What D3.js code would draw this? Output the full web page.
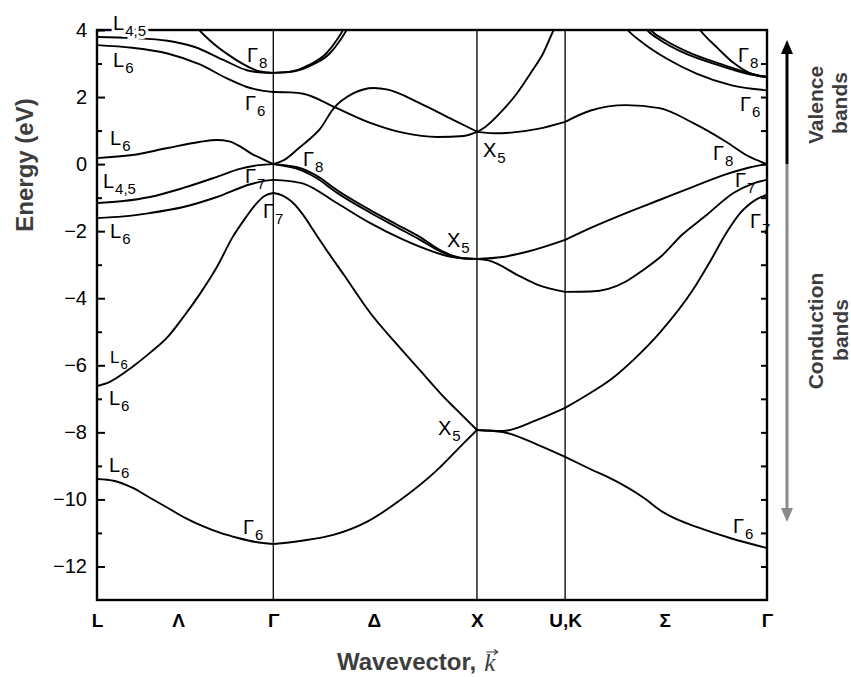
<!DOCTYPE html>
<html>
<head>
<meta charset="utf-8">
<script src="https://cdn.jsdelivr.net/npm/d3@7"></script>
<style>
  body { margin: 0; background: #fff; }
  text { font-family: "Liberation Sans", Arial, sans-serif; }
</style>
</head>
<body>
<svg id="chart" width="851" height="677"></svg>
<script>
// ---- Path through the Brillouin zone (k in arbitrary path-length units) ----
const pathTicks  = [0, 0.46, 1, 1.57, 2.155, 2.655, 3.22, 3.8];
const pathLabels = ["L", "Λ", "Γ", "Δ", "X", "U,K", "Σ", "Γ"];
const symmetryLines = [1, 2.155, 2.655];

// ---- Energy ticks (eV) ----
const energyMajor = [-12, -10, -8, -6, -4, -2, 0, 2, 4];
const energyMinor = [-11, -9, -7, -5, -3, -1, 1, 3];
const energyRight = [-12, -11, -10, -9, -8, -7, -6, -5, -4, -3, -2, -1, 0, 1, 2, 3];

// ---- Bands: [k, E] pairs, one array per branch ----
// L -> Γ
const bandsLG = [
  [[0,-9.39],[0.1,-9.45],[0.2,-9.65],[0.3,-9.95],[0.4,-10.25],[0.5,-10.55],[0.6,-10.8],[0.7,-11.0],[0.8,-11.15],[0.9,-11.27],[1,-11.33]],
  [[0,-6.62],[0.07,-6.5],[0.2,-6.05],[0.3,-5.63],[0.4,-5.16],[0.49,-4.56],[0.58,-3.9],[0.68,-3.07],[0.77,-2.17],[0.84,-1.62],[0.9,-1.2],[0.95,-0.95],[1,-0.86]],
  [[0,-1.61],[0.15,-1.56],[0.3,-1.46],[0.49,-1.28],[0.68,-0.98],[0.87,-0.6],[0.95,-0.5],[1,-0.47]],
  [[0,-1.16],[0.15,-1.1],[0.3,-0.98],[0.49,-0.71],[0.68,-0.38],[0.81,-0.14],[0.92,-0.03],[1,0]],
  [[0,0.18],[0.2,0.27],[0.4,0.48],[0.58,0.66],[0.68,0.72],[0.75,0.68],[0.82,0.5],[0.88,0.3],[0.94,0.15],[1,0]],
  [[0,3.55],[0.2,3.47],[0.4,3.3],[0.58,2.98],[0.74,2.55],[0.85,2.3],[0.93,2.2],[1,2.15]],
  [[0,3.79],[0.2,3.76],[0.4,3.68],[0.55,3.5],[0.72,3.1],[0.85,2.8],[0.94,2.73],[1,2.72]],
  [[0.54,4.25],[0.58,4.0],[0.66,3.6],[0.74,3.28],[0.83,2.98],[0.92,2.77],[1,2.72]]
];
// Γ -> X
const bandsGX = [
  [[1,-11.33],[1.15,-11.24],[1.34,-11.06],[1.53,-10.67],[1.72,-10.02],[1.93,-9.12],[2.08,-8.32],[2.155,-7.93]],
  [[1,-0.86],[1.05,-0.93],[1.1,-1.1],[1.19,-1.67],[1.225,-1.96],[1.3,-2.55],[1.4,-3.3],[1.55,-4.44],[1.7,-5.37],[1.83,-6.14],[1.95,-6.85],[2.04,-7.33],[2.155,-7.93]],
  [[1,0],[1.06,-0.03],[1.14,-0.1],[1.24,-0.33],[1.36,-0.77],[1.55,-1.37],[1.7,-1.8],[1.83,-2.17],[1.96,-2.6],[2.06,-2.79],[2.155,-2.83]],
  [[1,0],[1.06,-0.05],[1.14,-0.15],[1.24,-0.4],[1.36,-0.85],[1.55,-1.45],[1.7,-1.88],[1.83,-2.25],[1.96,-2.64],[2.06,-2.8],[2.155,-2.83]],
  [[1,-0.47],[1.08,-0.5],[1.17,-0.58],[1.36,-1.16],[1.55,-1.76],[1.74,-2.26],[1.89,-2.58],[2.0,-2.76],[2.08,-2.82],[2.155,-2.83]],
  [[1,0],[1.06,0.12],[1.15,0.5],[1.2,0.72],[1.265,1.05],[1.34,1.65],[1.45,2.1],[1.57,2.27],[1.65,2.22],[1.83,1.82],[2.02,1.32],[2.155,0.97]],
  [[1,2.15],[1.1,2.14],[1.17,2.1],[1.36,1.67],[1.55,1.23],[1.74,0.93],[1.93,0.81],[2.08,0.84],[2.155,0.96]],
  [[1,2.72],[1.1,2.76],[1.2,2.95],[1.3,3.3],[1.36,3.7],[1.4,4.05],[1.42,4.3]],
  [[1,2.72],[1.12,2.77],[1.22,2.96],[1.32,3.3],[1.38,3.7],[1.42,4.05],[1.44,4.3]]
];
// X -> U,K
const bandsXU = [
  [[2.155,0.96],[2.25,0.92],[2.35,0.94],[2.5,1.05],[2.655,1.26]],
  [[2.155,0.96],[2.2,1.1],[2.3,1.6],[2.38,2.1],[2.46,2.72],[2.53,3.3],[2.59,4.0],[2.62,4.3]],
  [[2.155,-2.83],[2.3,-2.77],[2.45,-2.6],[2.655,-2.26]],
  [[2.155,-2.83],[2.22,-2.87],[2.4,-3.35],[2.5,-3.6],[2.655,-3.81]],
  [[2.155,-7.93],[2.3,-7.96],[2.5,-7.62],[2.655,-7.27]],
  [[2.155,-7.93],[2.3,-7.99],[2.5,-8.37],[2.655,-8.73]]
];
// U,K -> Γ
const bandsKG = [
  [[2.655,1.26],[2.8,1.6],[3.0,1.76],[3.19,1.67],[3.38,1.23],[3.57,0.66],[3.69,0.25],[3.8,0]],
  [[2.655,-2.26],[2.81,-1.88],[3.0,-1.46],[3.19,-1.07],[3.38,-0.68],[3.57,-0.3],[3.7,-0.1],[3.8,0]],
  [[2.655,-3.81],[2.8,-3.8],[2.9,-3.72],[3.0,-3.5],[3.1,-3.15],[3.2,-2.75],[3.32,-2.1],[3.45,-1.55],[3.61,-0.86],[3.72,-0.58],[3.8,-0.47]],
  [[2.655,-7.27],[2.8,-6.82],[2.91,-6.44],[3.05,-5.8],[3.19,-5.04],[3.38,-3.75],[3.48,-2.88],[3.57,-2.05],[3.65,-1.45],[3.74,-1.05],[3.8,-0.92]],
  [[2.655,-8.73],[2.8,-9.1],[2.93,-9.42],[3.1,-9.95],[3.21,-10.38],[3.3,-10.62],[3.4,-10.82],[3.59,-11.15],[3.8,-11.45]],
  [[2.98,4.2],[3.01,4.0],[3.1,3.6],[3.23,3.15],[3.4,2.7],[3.6,2.35],[3.8,2.2]],
  [[3.09,4.2],[3.12,4.0],[3.2,3.68],[3.32,3.34],[3.52,2.96],[3.7,2.68],[3.8,2.6]],
  [[3.11,4.2],[3.14,4.0],[3.22,3.7],[3.34,3.37],[3.54,2.98],[3.71,2.7],[3.8,2.6]],
  [[3.38,4.3],[3.42,4.0],[3.52,3.46],[3.61,3.02],[3.7,2.72],[3.76,2.62],[3.8,2.6]]
];

// ---- Symmetry labels of the states: [symbol, subscript, k, E] ----
const stateLabels = [
  ["L","4,5",0.091,4.0], ["L","6",0.091,2.9], ["Γ","8",0.851,3.05], ["Γ","6",0.839,1.61],
  ["L","6",0.074,0.57], ["Γ","8",1.168,-0.06], ["L","4,5",0.034,-0.71], ["Γ","7",0.839,-0.56],
  ["Γ","7",0.942,-1.61], ["L","6",0.074,-2.2], ["L","6",0.074,-5.93], ["L","6",0.068,-7.18],
  ["L","6",0.068,-9.18], ["Γ","6",0.828,-11.03],
  ["X","5",2.189,0.21], ["X","5",1.985,-2.47], ["X","5",1.934,-8.08],
  ["Γ","8",3.636,3.05], ["Γ","6",3.647,1.58], ["Γ","8",3.494,0.12], ["Γ","7",3.619,-0.68],
  ["Γ","7",3.704,-1.91], ["Γ","6",3.607,-11.0]
];

// ---- Layout ----
const svg = d3.select("#chart");
const x = d3.scaleLinear().domain([0, 3.8]).range([97, 767]);
const y = d3.scaleLinear().domain([-13, 4]).range([600, 30]);
const [x0, x1] = x.range();
const [yb, yt] = y.range();

svg.append("rect").attr("width", 851).attr("height", 677).attr("fill", "#fff");

svg.append("defs").append("clipPath").attr("id", "plot-clip")
  .append("rect").attr("x", x0).attr("y", yt).attr("width", x1 - x0).attr("height", yb - yt);

// vertical lines at the symmetry points
svg.append("g").selectAll("line").data(symmetryLines).join("line")
  .attr("x1", d => x(d)).attr("x2", d => x(d))
  .attr("y1", yt).attr("y2", yb)
  .attr("stroke", "#111").attr("stroke-width", 1.4);

// bands
const line = d3.line().x(d => x(d[0])).y(d => y(d[1])).curve(d3.curveMonotoneX);
const allBands = [].concat(bandsLG, bandsGX, bandsXU, bandsKG);
svg.append("g").attr("clip-path", "url(#plot-clip)")
  .selectAll("path").data(allBands).join("path")
  .attr("d", line).attr("fill", "none")
  .attr("stroke", "#000").attr("stroke-width", 1.9)
  .attr("stroke-linejoin", "round").attr("stroke-linecap", "round");

// frame
svg.append("rect").attr("x", x0).attr("y", yt).attr("width", x1 - x0).attr("height", yb - yt)
  .attr("fill", "none").attr("stroke", "#000").attr("stroke-width", 2.4);

// left energy axis (ticks point inward)
const axisL = svg.append("g").attr("transform", `translate(${x0},0)`)
  .call(d3.axisLeft(y).tickValues(energyMajor).tickSize(-8).tickPadding(10));
axisL.select(".domain").remove();
axisL.selectAll("line").attr("stroke-width", 2);
axisL.selectAll("text").attr("font-size", 20).attr("fill", "#000")
  .style("font-family", "'Liberation Sans', Arial, sans-serif");

const axisLm = svg.append("g").attr("transform", `translate(${x0},0)`)
  .call(d3.axisLeft(y).tickValues(energyMinor).tickSize(-5).tickFormat(""));
axisLm.select(".domain").remove();
axisLm.selectAll("line").attr("stroke-width", 2);

// right axis minor ticks
const axisR = svg.append("g").attr("transform", `translate(${x1},0)`)
  .call(d3.axisRight(y).tickValues(energyRight).tickSize(-6).tickFormat(""));
axisR.select(".domain").remove();
axisR.selectAll("line").attr("stroke-width", 2);

// path axis
const axisB = svg.append("g").attr("transform", `translate(0,${yb})`)
  .call(d3.axisBottom(x).tickValues(pathTicks).tickSize(0).tickPadding(14)
    .tickFormat((d, i) => pathLabels[i]));
axisB.select(".domain").remove();
axisB.selectAll("text").attr("font-size", 19).attr("font-weight", "bold").attr("fill", "#000")
  .style("font-family", "'Liberation Sans', Arial, sans-serif");

// state labels
const lab = svg.append("g").selectAll("text").data(stateLabels).join("text")
  .attr("x", d => x(d[2])).attr("y", d => y(d[3]))
  .attr("font-size", (d, i) => i === 10 ? 17 : 20)
  .attr("fill", "#000");
lab.each(function(d, i) {
  const t = d3.select(this);
  if (i === 0) t.attr("stroke", "#fff").attr("stroke-width", 6).attr("paint-order", "stroke");
  t.append("tspan").text(d[0]);
  t.append("tspan").attr("dx", 1).attr("dy", 6)
    .attr("font-size", i === 10 ? 13 : 15).text(d[1]);
});

// axis titles
const titleColor = "#3d3d3d";
svg.append("text")
  .attr("transform", "translate(33,165) rotate(-90)")
  .attr("text-anchor", "middle").attr("font-size", 24).attr("font-weight", "bold")
  .attr("fill", titleColor).text("Energy (eV)");

const xt = svg.append("text").attr("x", 337).attr("y", 670)
  .attr("font-size", 24).attr("font-weight", "bold").attr("fill", titleColor)
  .text("Wavevector,");
const kx = 337 + xt.node().getComputedTextLength() + 8;
svg.append("text").attr("x", kx).attr("y", 671)
  .attr("font-size", 25).attr("font-style", "italic")
  .style("font-family", "'Liberation Serif', 'DejaVu Serif', serif")
  .attr("fill", titleColor).text("k");
// vector arrow over k
svg.append("path")
  .attr("d", `M${kx + 2},${652} L${kx + 13},${652} M${kx + 10},${649.5} L${kx + 13.5},${652} L${kx + 10},${654.5}`)
  .attr("fill", "none").attr("stroke", titleColor).attr("stroke-width", 1.2);

// valence / conduction arrow
const ax = 787;
const y0 = y(0);
const yTop = 40, yBot = 522;
svg.append("line").attr("x1", ax).attr("x2", ax).attr("y1", y0).attr("y2", yTop + 12)
  .attr("stroke", "#000").attr("stroke-width", 3);
svg.append("path").attr("d", `M${ax},${yTop} L${ax - 6},${yTop + 14} L${ax + 6},${yTop + 14} Z`).attr("fill", "#000");
svg.append("line").attr("x1", ax).attr("x2", ax).attr("y1", y0).attr("y2", yBot - 12)
  .attr("stroke", "#8a8a8a").attr("stroke-width", 3);
svg.append("path").attr("d", `M${ax},${yBot} L${ax - 6},${yBot - 14} L${ax + 6},${yBot - 14} Z`).attr("fill", "#8a8a8a");

function sideText(tx, ty, s) {
  svg.append("text").attr("transform", `translate(${tx},${ty}) rotate(-90)`)
    .attr("text-anchor", "middle").attr("font-size", 21).attr("font-weight", "bold")
    .attr("fill", titleColor).text(s);
}
sideText(823, 105, "Valence");
sideText(847, 103, "bands");
sideText(823, 331, "Conduction");
sideText(848, 330, "bands");
</script>
</body>
</html>
